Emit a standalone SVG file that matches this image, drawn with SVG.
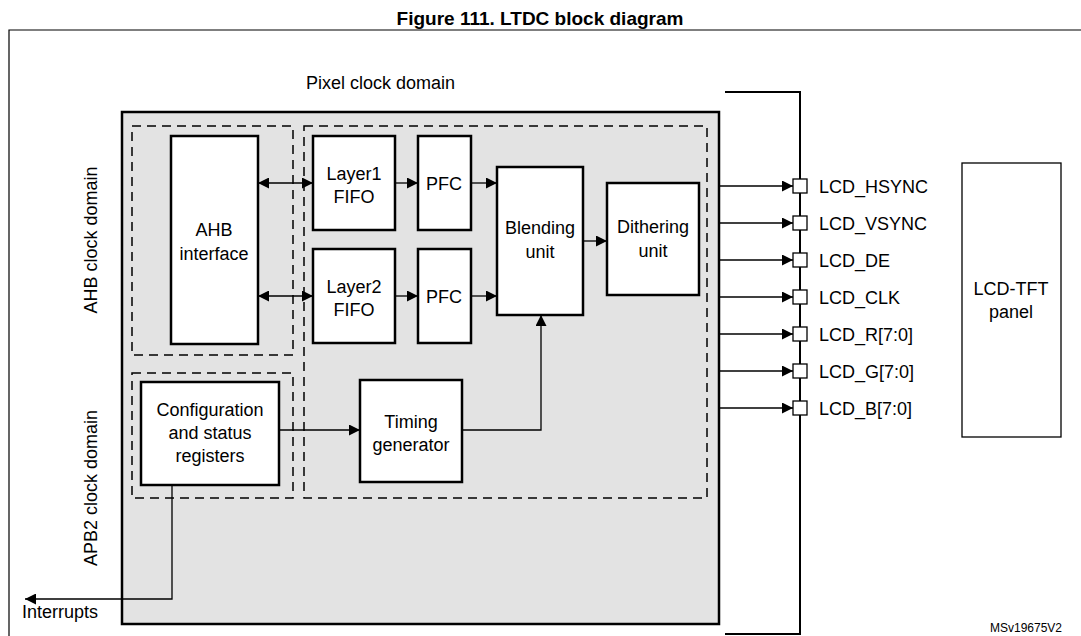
<svg xmlns="http://www.w3.org/2000/svg" width="1081" height="636" viewBox="0 0 1081 636">
<defs>
<marker id="a" viewBox="0 0 10 10" refX="10" refY="5" markerWidth="11" markerHeight="11" markerUnits="userSpaceOnUse" orient="auto-start-reverse"><path d="M0,0L10,5L0,10z" fill="#000"/></marker>
<style>
text{font-family:"Liberation Sans",Arial,sans-serif;font-size:18px;fill:#000}
.b{fill:#fff;stroke:#000;stroke-width:2.5}
.d{fill:none;stroke:#000;stroke-width:1.5;stroke-dasharray:9,6}
.c{fill:none;stroke:#000;stroke-width:1.3}
.m{text-anchor:middle}
.p{fill:#fff;stroke:#000;stroke-width:1.3}
</style>
</defs>
<rect width="1081" height="636" fill="#fff"/>
<text x="540" y="25" class="m" style="font-weight:bold;font-size:19px">Figure 111. LTDC block diagram</text>
<path d="M9,640V30H1085" fill="none" stroke="#000" stroke-width="1.2"/>
<text x="306" y="89">Pixel clock domain</text>
<rect x="122" y="112" width="597" height="512" fill="#e3e3e3" stroke="#000" stroke-width="2.5"/>
<path d="M725,92H800V634H725" fill="none" stroke="#000" stroke-width="2"/>
<text transform="translate(97,240) rotate(-90)" class="m">AHB clock domain</text>
<text transform="translate(97,488) rotate(-90)" class="m">APB2 clock domain</text>
<rect class="d" x="132" y="126" width="161" height="229"/>
<rect class="d" x="132" y="373" width="161" height="125"/>
<rect class="d" x="304" y="126" width="403" height="372"/>
<g id="ahb"><rect class="b" x="171" y="136" width="87" height="208"/><text x="214" y="236" class="m">AHB</text><text x="214" y="260" class="m">interface</text></g>
<g id="l1"><rect class="b" x="313" y="136" width="82" height="94"/><text x="354" y="180" class="m">Layer1</text><text x="354" y="203" class="m">FIFO</text></g>
<g id="l2"><rect class="b" x="313" y="249" width="82" height="94"/><text x="354" y="293" class="m">Layer2</text><text x="354" y="316" class="m">FIFO</text></g>
<g id="pfc1"><rect class="b" x="418" y="136" width="53" height="94"/><text x="444" y="190" class="m">PFC</text></g>
<g id="pfc2"><rect class="b" x="418" y="249" width="53" height="94"/><text x="444" y="303" class="m">PFC</text></g>
<g id="blend"><rect class="b" x="497" y="167" width="86" height="148"/><text x="540" y="234" class="m">Blending</text><text x="540" y="258" class="m">unit</text></g>
<g id="dither"><rect class="b" x="607" y="183" width="92" height="112"/><text x="653" y="233" class="m">Dithering</text><text x="653" y="257" class="m">unit</text></g>
<g id="config"><rect class="b" x="141" y="382" width="138" height="103"/><text x="210" y="416" class="m">Configuration</text><text x="210" y="439" class="m">and status</text><text x="210" y="462" class="m">registers</text></g>
<g id="timing"><rect class="b" x="360" y="380" width="102" height="102"/><text x="411" y="428" class="m">Timing</text><text x="411" y="451" class="m">generator</text></g>
<g id="panel"><rect class="p" x="962" y="163" width="99" height="274" stroke-width="2"/><text x="1011" y="295" class="m">LCD-TFT</text><text x="1011" y="318" class="m">panel</text></g>
<g id="connectors">
<path class="c" d="M258,183H313" marker-start="url(#a)" marker-end="url(#a)"/>
<path class="c" d="M258,296H313" marker-start="url(#a)" marker-end="url(#a)"/>
<path class="c" d="M395,183H418" marker-end="url(#a)"/>
<path class="c" d="M395,296H418" marker-end="url(#a)"/>
<path class="c" d="M471,183H497" marker-end="url(#a)"/>
<path class="c" d="M471,296H497" marker-end="url(#a)"/>
<path class="c" d="M583,241H607" marker-end="url(#a)"/>
<path class="c" d="M279,430H360" marker-end="url(#a)"/>
<path class="c" d="M462,430H541V315" marker-end="url(#a)"/>
<path class="c" d="M172,485V599H25" marker-end="url(#a)"/>
<path class="c" d="M719,186H793" marker-end="url(#a)"/><path class="c" d="M719,223H793" marker-end="url(#a)"/><path class="c" d="M719,260H793" marker-end="url(#a)"/><path class="c" d="M719,297H793" marker-end="url(#a)"/><path class="c" d="M719,334H793" marker-end="url(#a)"/><path class="c" d="M719,371H793" marker-end="url(#a)"/><path class="c" d="M719,408H793" marker-end="url(#a)"/>
</g>
<g id="pins">
<rect class="p" x="793" y="179" width="14" height="14"/><rect class="p" x="793" y="216" width="14" height="14"/><rect class="p" x="793" y="253" width="14" height="14"/><rect class="p" x="793" y="290" width="14" height="14"/><rect class="p" x="793" y="327" width="14" height="14"/><rect class="p" x="793" y="364" width="14" height="14"/><rect class="p" x="793" y="401" width="14" height="14"/>
</g>
<text x="819" y="193">LCD_HSYNC</text>
<text x="819" y="230">LCD_VSYNC</text>
<text x="819" y="267">LCD_DE</text>
<text x="819" y="304">LCD_CLK</text>
<text x="819" y="341">LCD_R[7:0]</text>
<text x="819" y="378">LCD_G[7:0]</text>
<text x="819" y="415">LCD_B[7:0]</text>
<text x="22" y="618">Interrupts</text>
<text x="990" y="632" style="font-size:12px">MSv19675V2</text>
</svg>
